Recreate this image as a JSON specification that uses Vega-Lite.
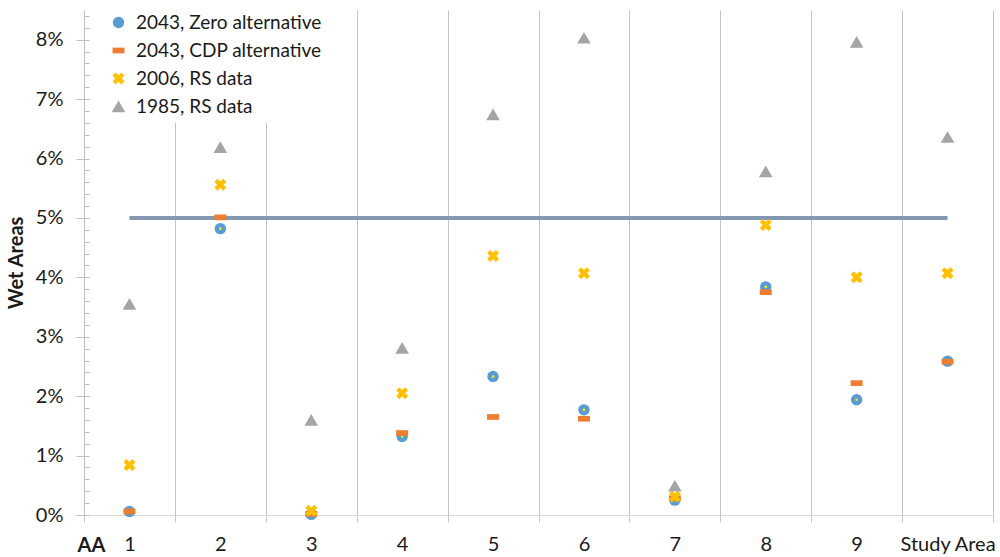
{
  "$schema": "https://vega.github.io/schema/vega-lite/v6.json",
  "width": 909,
  "height": 505,
  "autosize": "none",
  "padding": {"left": 84, "top": 10, "right": 7, "bottom": 42},
  "config": {"view": {"stroke": null}, "font": "Lato"},
  "data": {
    "values": [
      {"aa": "1", "series": "2043, Zero alternative", "value": 0.0006},
      {"aa": "2", "series": "2043, Zero alternative", "value": 0.0482},
      {"aa": "3", "series": "2043, Zero alternative", "value": 0.0001},
      {"aa": "4", "series": "2043, Zero alternative", "value": 0.0132},
      {"aa": "5", "series": "2043, Zero alternative", "value": 0.0233},
      {"aa": "6", "series": "2043, Zero alternative", "value": 0.0177},
      {"aa": "7", "series": "2043, Zero alternative", "value": 0.0025},
      {"aa": "8", "series": "2043, Zero alternative", "value": 0.0384},
      {"aa": "9", "series": "2043, Zero alternative", "value": 0.0194},
      {"aa": "Study Area", "series": "2043, Zero alternative", "value": 0.0259},
      {"aa": "1", "series": "2043, CDP alternative", "value": 0.0006},
      {"aa": "2", "series": "2043, CDP alternative", "value": 0.0501},
      {"aa": "3", "series": "2043, CDP alternative", "value": 0.0002},
      {"aa": "4", "series": "2043, CDP alternative", "value": 0.0138},
      {"aa": "5", "series": "2043, CDP alternative", "value": 0.0165},
      {"aa": "6", "series": "2043, CDP alternative", "value": 0.0162},
      {"aa": "7", "series": "2043, CDP alternative", "value": 0.0028},
      {"aa": "8", "series": "2043, CDP alternative", "value": 0.0375},
      {"aa": "9", "series": "2043, CDP alternative", "value": 0.0222},
      {"aa": "Study Area", "series": "2043, CDP alternative", "value": 0.0258},
      {"aa": "1", "series": "2006, RS data", "value": 0.0084},
      {"aa": "2", "series": "2006, RS data", "value": 0.0556},
      {"aa": "3", "series": "2006, RS data", "value": 0.0007},
      {"aa": "4", "series": "2006, RS data", "value": 0.0205},
      {"aa": "5", "series": "2006, RS data", "value": 0.0436},
      {"aa": "6", "series": "2006, RS data", "value": 0.0407},
      {"aa": "7", "series": "2006, RS data", "value": 0.0031},
      {"aa": "8", "series": "2006, RS data", "value": 0.0488},
      {"aa": "9", "series": "2006, RS data", "value": 0.0400},
      {"aa": "Study Area", "series": "2006, RS data", "value": 0.0407},
      {"aa": "1", "series": "1985, RS data", "value": 0.0355},
      {"aa": "2", "series": "1985, RS data", "value": 0.0619},
      {"aa": "3", "series": "1985, RS data", "value": 0.0160},
      {"aa": "4", "series": "1985, RS data", "value": 0.0281},
      {"aa": "5", "series": "1985, RS data", "value": 0.0674},
      {"aa": "6", "series": "1985, RS data", "value": 0.0803},
      {"aa": "7", "series": "1985, RS data", "value": 0.0049},
      {"aa": "8", "series": "1985, RS data", "value": 0.0578},
      {"aa": "9", "series": "1985, RS data", "value": 0.0796},
      {"aa": "Study Area", "series": "1985, RS data", "value": 0.0636},
      {"aa": "1", "series": "Threshold", "value": 0.05},
      {"aa": "2", "series": "Threshold", "value": 0.05},
      {"aa": "3", "series": "Threshold", "value": 0.05},
      {"aa": "4", "series": "Threshold", "value": 0.05},
      {"aa": "5", "series": "Threshold", "value": 0.05},
      {"aa": "6", "series": "Threshold", "value": 0.05},
      {"aa": "7", "series": "Threshold", "value": 0.05},
      {"aa": "8", "series": "Threshold", "value": 0.05},
      {"aa": "9", "series": "Threshold", "value": 0.05},
      {"aa": "Study Area", "series": "Threshold", "value": 0.05}
    ]
  },
  "encoding": {
    "x": {
      "field": "aa",
      "type": "ordinal",
      "sort": ["1", "2", "3", "4", "5", "6", "7", "8", "9", "Study Area"],
      "scale": {"type": "band", "paddingInner": 0, "paddingOuter": 0},
      "axis": {
        "tickBand": "extent",
        "grid": true,
        "gridColor": "#c4c4c4",
        "tickSize": 7,
        "tickColor": "#c4c4c4",
        "domainColor": "#d9d9d9",
        "labelAngle": 0,
        "labelFontSize": 20,
        "labelColor": "#1a1a1a",
        "labelPadding": 12,
        "labelLimit": 300,
        "title": "AA",
        "titleFontSize": 20,
        "titleFontWeight": "bold",
        "titleColor": "#1a1a1a",
        "titleX": 7,
        "titleY": 30,
        "titleAlign": "center",
        "titleBaseline": "middle"
      }
    }
  },
  "layer": [
    {
      "transform": [{"filter": "datum.series === 'Threshold'"}],
      "mark": {"type": "line", "color": "#8497B0", "strokeWidth": 4},
      "encoding": {
        "y": {
          "field": "value",
          "type": "quantitative",
          "scale": {"domain": [0, 0.085], "nice": false},
          "axis": {
            "orient": "right",
            "offset": -909,
            "values": [0, 0.002, 0.004, 0.006, 0.008, 0.01, 0.012, 0.014, 0.016, 0.018, 0.02, 0.022, 0.024, 0.026, 0.028, 0.03, 0.032, 0.034, 0.036, 0.038, 0.04, 0.042, 0.044, 0.046, 0.048, 0.05, 0.052, 0.054, 0.056, 0.058, 0.06, 0.062, 0.064, 0.066, 0.068, 0.07, 0.072, 0.074, 0.076, 0.078, 0.08, 0.082, 0.084],
            "labels": false,
            "domain": false,
            "grid": false,
            "tickSize": 5,
            "tickColor": "#bfbfbf",
            "title": null
          }
        }
      }
    },
    {
      "transform": [{"filter": "datum.series === '2043, Zero alternative'"}],
      "mark": {"type": "point", "filled": true, "opacity": 1, "size": 130},
      "encoding": {
        "y": {
          "field": "value",
          "type": "quantitative",
          "scale": {"domain": [0, 0.085], "nice": false},
          "axis": {
            "orient": "left",
            "values": [0, 0.01, 0.02, 0.03, 0.04, 0.05, 0.06, 0.07, 0.08],
            "format": ".0%",
            "grid": false,
            "tickSize": 8,
            "tickColor": "#bfbfbf",
            "domainColor": "#bfbfbf",
            "labelFontSize": 20,
            "labelColor": "#1a1a1a",
            "labelPadding": 13,
            "title": "Wet Areas",
            "titleFontSize": 20,
            "titleFontWeight": "bold",
            "titleColor": "#1a1a1a",
            "titlePadding": 9
          }
        },
        "color": {
          "field": "series",
          "type": "nominal",
          "scale": {
            "domain": ["2043, Zero alternative", "2043, CDP alternative", "2006, RS data", "1985, RS data"],
            "range": ["#5B9BD5", "#ED7D31", "#FFC000", "#A5A5A5"]
          },
          "legend": {
            "orient": "none",
            "legendX": 19,
            "legendY": -3,
            "title": null,
            "fillColor": "white",
            "padding": 6,
            "labelFontSize": 19,
            "labelLimit": 400,
            "labelColor": "#1a1a1a",
            "symbolSize": 130,
            "rowPadding": 8,
            "labelOffset": 8
          }
        },
        "shape": {
          "field": "series",
          "type": "nominal",
          "scale": {
            "domain": ["2043, Zero alternative", "2043, CDP alternative", "2006, RS data", "1985, RS data"],
            "range": ["circle", "M-1.05,-0.5 L1.05,-0.5 L1.05,0.5 L-1.05,0.5 Z", "M-1.05,-0.5 L-0.5,-1.05 L0,-0.55 L0.5,-1.05 L1.05,-0.5 L0.55,0 L1.05,0.5 L0.5,1.05 L0,0.55 L-0.5,1.05 L-1.05,0.5 L-0.55,0 Z", "M0,-1.05 L1.2,1 L-1.2,1 Z"]
          },
          "legend": {
            "orient": "none",
            "legendX": 19,
            "legendY": -3,
            "title": null,
            "fillColor": "white",
            "padding": 6,
            "labelFontSize": 19,
            "labelLimit": 400,
            "labelColor": "#1a1a1a",
            "symbolSize": 130,
            "rowPadding": 8,
            "labelOffset": 8
          }
        }
      }
    },
    {
      "transform": [{"filter": "datum.series === '2043, Zero alternative'"}],
      "mark": {"type": "point", "filled": true, "opacity": 1, "size": 7, "color": "#F0F000"},
      "encoding": {
        "y": {"field": "value", "type": "quantitative", "scale": {"domain": [0, 0.085], "nice": false}, "axis": null}
      }
    },
    {
      "transform": [{"filter": "datum.series !== '2043, Zero alternative' && datum.series !== 'Threshold'"}],
      "mark": {"type": "point", "filled": true, "opacity": 1, "size": 130},
      "encoding": {
        "y": {"field": "value", "type": "quantitative", "scale": {"domain": [0, 0.085], "nice": false}, "axis": null},
        "color": {
          "field": "series",
          "type": "nominal",
          "scale": {
            "domain": ["2043, Zero alternative", "2043, CDP alternative", "2006, RS data", "1985, RS data"],
            "range": ["#5B9BD5", "#ED7D31", "#FFC000", "#A5A5A5"]
          },
          "legend": {
            "orient": "none",
            "legendX": 19,
            "legendY": -3,
            "title": null,
            "fillColor": "white",
            "padding": 6,
            "labelFontSize": 19,
            "labelLimit": 400,
            "labelColor": "#1a1a1a",
            "symbolSize": 130,
            "rowPadding": 8,
            "labelOffset": 8
          }
        },
        "shape": {
          "field": "series",
          "type": "nominal",
          "scale": {
            "domain": ["2043, Zero alternative", "2043, CDP alternative", "2006, RS data", "1985, RS data"],
            "range": ["circle", "M-1.05,-0.5 L1.05,-0.5 L1.05,0.5 L-1.05,0.5 Z", "M-1.05,-0.5 L-0.5,-1.05 L0,-0.55 L0.5,-1.05 L1.05,-0.5 L0.55,0 L1.05,0.5 L0.5,1.05 L0,0.55 L-0.5,1.05 L-1.05,0.5 L-0.55,0 Z", "M0,-1.05 L1.2,1 L-1.2,1 Z"]
          },
          "legend": {
            "orient": "none",
            "legendX": 19,
            "legendY": -3,
            "title": null,
            "fillColor": "white",
            "padding": 6,
            "labelFontSize": 19,
            "labelLimit": 400,
            "labelColor": "#1a1a1a",
            "symbolSize": 130,
            "rowPadding": 8,
            "labelOffset": 8
          }
        }
      }
    }
  ],
  "resolve": {"axis": {"y": "independent"}}
}
